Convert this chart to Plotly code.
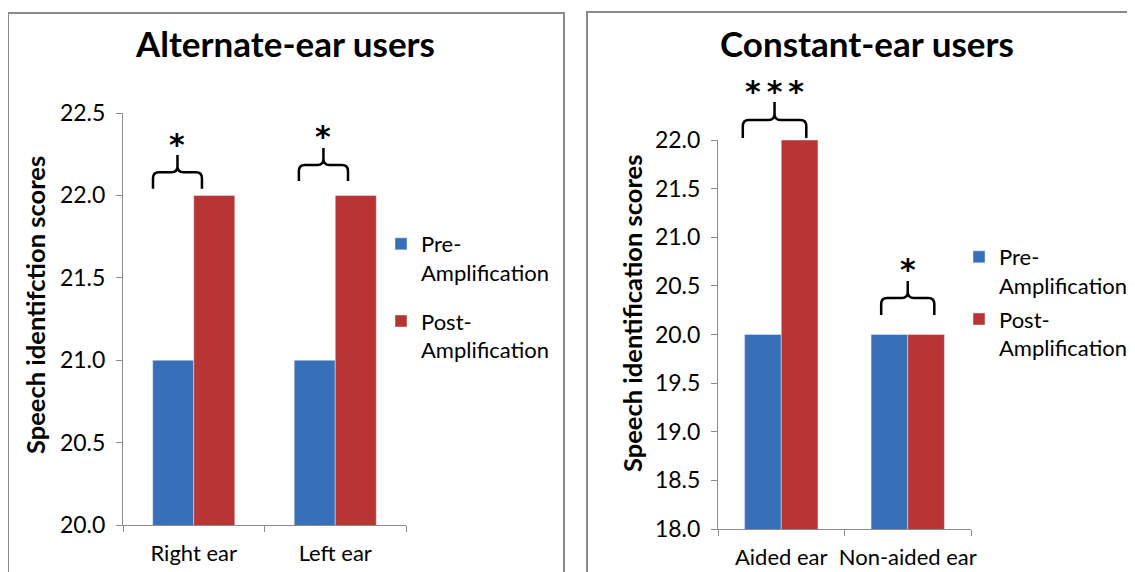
import plotly.graph_objects as go

# ---------------- data ----------------
alt_categories = ["Right ear", "Left ear"]
alt_pre = [21.0, 21.0]
alt_post = [22.0, 22.0]

con_categories = ["Aided ear", "Non-aided ear"]
con_pre = [20.0, 20.0]
con_post = [22.0, 20.0]

series_names = ["Pre-<br>Amplification", "Post-<br>Amplification"]
alt_tickvals = [20.0, 20.5, 21.0, 21.5, 22.0, 22.5]
con_tickvals = [18.0, 18.5, 19.0, 19.5, 20.0, 20.5, 21.0, 21.5, 22.0]

# significance markers: (category index, label)
alt_sig = [(0, "*"), (1, "*")]
con_sig = [(0, "*\u2009*\u2009*"), (1, "*")]

# ---------------- style ----------------
W, H = 1135, 572
OFF = 8  # page body margin: window pixel = figure pixel + OFF
FONT = "Lato"
BLUE = "#3770B8"
RED = "#B83533"
GRID = "#8C8C8C"

def px(x):
    return (x - OFF) / W

def py(y):
    return 1 - (y - OFF) / H

# subplot geometry (window pixels)
L_X = (123, 406)
L_Y = (525, 113)   # bottom, top
R_X = (718, 971)
R_Y = (529, 140)
L_RANGE = (20.0, 22.5)
R_RANGE = (18.0, 22.0)

fig = go.Figure()

fig.add_trace(go.Bar(x=alt_categories, y=alt_pre, name=series_names[0], marker_color=BLUE,
                     xaxis="x", yaxis="y", legend="legend", legendgroup="a1"))
fig.add_trace(go.Bar(x=alt_categories, y=alt_post, name=series_names[1], marker_color=RED,
                     xaxis="x", yaxis="y", legend="legend", legendgroup="a2"))
fig.add_trace(go.Bar(x=con_categories, y=con_pre, name=series_names[0], marker_color=BLUE,
                     xaxis="x2", yaxis="y2", legend="legend2", legendgroup="b1"))
fig.add_trace(go.Bar(x=con_categories, y=con_post, name=series_names[1], marker_color=RED,
                     xaxis="x2", yaxis="y2", legend="legend2", legendgroup="b2"))

axis_common = dict(showline=True, linecolor=GRID, linewidth=1, ticks="outside",
                   tickcolor=GRID, ticklen=6, showgrid=False, zeroline=False,
                   automargin=False)
xfont = dict(family=FONT, size=22, color="#000")
yfont = dict(family=FONT, size=23, color="#000")

fig.update_layout(
    width=W, height=H,
    margin=dict(l=0, r=0, t=0, b=0, autoexpand=False),
    paper_bgcolor="white", plot_bgcolor="white",
    barmode="group", bargap=0.42, bargroupgap=0,
    font=dict(family=FONT, color="#000"),
    xaxis=dict(domain=[px(L_X[0]), px(L_X[1])], anchor="y", tickson="boundaries",
               tickangle=0, tickfont=xfont, ticklabelstandoff=9, **axis_common),
    yaxis=dict(domain=[py(L_Y[0]), py(L_Y[1])], anchor="x", range=list(L_RANGE),
               tickvals=alt_tickvals, tickformat=".1f", tickfont=yfont,
               ticklabelstandoff=6, **axis_common),
    xaxis2=dict(domain=[px(R_X[0]), px(R_X[1])], anchor="y2", tickson="boundaries",
                tickangle=0, tickfont=xfont, ticklabelstandoff=9, **axis_common),
    yaxis2=dict(domain=[py(R_Y[0]), py(R_Y[1])], anchor="x2", range=list(R_RANGE),
                tickvals=con_tickvals, tickformat=".1f", tickfont=yfont,
                ticklabelstandoff=6, **axis_common),
    legend=dict(x=px(381), y=py(223), xanchor="left", yanchor="top",
                font=dict(family=FONT, size=22), valign="top", tracegroupgap=17,
                itemwidth=30, bgcolor="rgba(0,0,0,0)"),
    legend2=dict(x=px(959), y=py(236), xanchor="left", yanchor="top",
                 font=dict(family=FONT, size=22), valign="top", tracegroupgap=2,
                 itemwidth=30, bgcolor="rgba(0,0,0,0)"),
)

shapes = []
annotations = []

# panel borders
shapes.append(dict(type="rect", xref="paper", yref="paper", x0=px(8), x1=px(564),
                   y0=py(620), y1=py(13), line=dict(color="#8A8A8A", width=2)))
shapes.append(dict(type="rect", xref="paper", yref="paper", x0=px(587), x1=px(1180),
                   y0=py(620), y1=py(12), line=dict(color="#8A8A8A", width=2)))

# titles
annotations.append(dict(text="<b>Alternate-ear users</b>", x=px(285), y=py(43), xref="paper",
                        yref="paper", showarrow=False, font=dict(family=FONT, size=35),
                        xanchor="center", yanchor="middle"))
annotations.append(dict(text="<b>Constant-ear users</b>", x=px(867), y=py(43), xref="paper",
                        yref="paper", showarrow=False, font=dict(family=FONT, size=35),
                        xanchor="center", yanchor="middle"))
# axis titles
annotations.append(dict(text="<b>Speech identifction scores</b>", x=px(35), y=py(305),
                        xref="paper", yref="paper", showarrow=False, textangle=-90,
                        font=dict(family=FONT, size=25.5), xanchor="center", yanchor="middle"))
annotations.append(dict(text="<b>Speech identification scores</b>", x=px(632), y=py(314),
                        xref="paper", yref="paper", showarrow=False, textangle=-90,
                        font=dict(family=FONT, size=25.5), xanchor="center", yanchor="middle"))

# brace helpers: map category offset / data value to paper coords
def cat_to_paper(xdom, n, c):
    return px(xdom[0]) + (c + 0.5) / n * (px(xdom[1]) - px(xdom[0]))

def val_to_paper(ydom, rng, v):
    return py(ydom[0]) + (v - rng[0]) / (rng[1] - rng[0]) * (py(ydom[1]) - py(ydom[0]))

# brace specs in data units: (x offsets left/right, bottom, horizontal, peak, label level)
alt_brace = [(-0.288, 0.058, 22.04, 22.14, 22.245, 22.34),
             (-0.257, 0.090, 22.087, 22.184, 22.288, 22.39)]
con_brace = [(-0.304, 0.198, 22.02, 22.206, 22.39, 22.55),
             (-0.21, 0.21, 20.2, 20.375, 20.55, 20.715)]

def brace(xdom, ydom, rng, n, idx, spec, label):
    dl, dr, yb, yh, yp, ys = spec
    x0 = cat_to_paper(xdom, n, idx + dl)
    x1 = cat_to_paper(xdom, n, idx + dr)
    xc = (x0 + x1) / 2
    Yb = val_to_paper(ydom, rng, yb)
    Yh = val_to_paper(ydom, rng, yh)
    Yp = val_to_paper(ydom, rng, yp)
    rx = 6 / W
    ry = 6 / H
    path = (f"M{x0},{Yb} L{x0},{Yh - ry} Q{x0},{Yh} {x0 + rx},{Yh} L{xc - rx},{Yh} "
            f"Q{xc},{Yh} {xc},{Yh + ry} L{xc},{Yp} M{xc},{Yh + ry} Q{xc},{Yh} {xc + rx},{Yh} "
            f"L{x1 - rx},{Yh} Q{x1},{Yh} {x1},{Yh - ry} L{x1},{Yb}")
    shapes.append(dict(type="path", xref="paper", yref="paper", path=path,
                       line=dict(color="#000", width=2.5)))
    annotations.append(dict(text=f"<b>{label}</b>", x=xc, y=val_to_paper(ydom, rng, ys),
                            xref="paper", yref="paper", showarrow=False, xanchor="center",
                            yanchor="middle", yshift=-5,
                            font=dict(family="DejaVu Sans", size=30, color="#000")))

for (idx, lab), spec in zip(alt_sig, alt_brace):
    brace(L_X, L_Y, L_RANGE, len(alt_categories), idx, spec, lab)
for (idx, lab), spec in zip(con_sig, con_brace):
    brace(R_X, R_Y, R_RANGE, len(con_categories), idx, spec, lab)

fig.update_layout(shapes=shapes, annotations=annotations)
fig.write_html("out.html")
